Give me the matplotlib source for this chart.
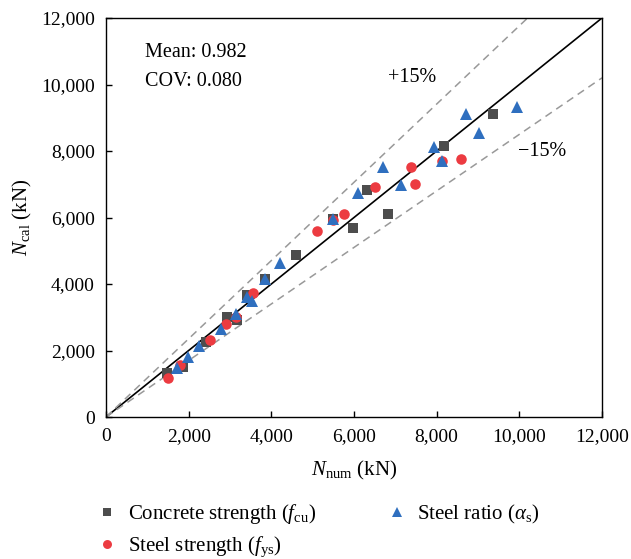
import numpy as np
import matplotlib
matplotlib.use('Agg')
import matplotlib.pyplot as plt

plt.rcParams['font.family'] = 'Liberation Serif'
plt.rcParams['mathtext.fontset'] = 'custom'
plt.rcParams['mathtext.rm'] = 'Liberation Serif'
plt.rcParams['mathtext.it'] = 'Liberation Serif:italic'

# concrete strength (f_cu)
fcu_num = [1476, 1863, 2420, 2927, 3169, 3411, 3847, 4597, 5492, 5976, 6315, 6823, 8178, 9363]
fcu_cal = [1323, 1504, 2256, 3008, 2917, 3669, 4150, 4872, 5955, 5684, 6827, 6105, 8150, 9113]

# steel strength (f_ys)
fys_num = [1508, 1790, 2528, 2903, 3157, 3549, 5098, 5499, 5758, 6520, 7367, 7481, 8122, 8589]
fys_cal = [1164, 1564, 2301, 2797, 3016, 3720, 5609, 5925, 6096, 6908, 7510, 7008, 7699, 7750]

# steel ratio (alpha_s)
as_num = [1710, 1991, 2257, 2782, 3153, 3423, 3525, 3847, 4210, 5499, 6104, 6694, 7149, 7936,
          8122, 8710, 9032, 9932]
as_cal = [1465, 1808, 2126, 2647, 3092, 3618, 3474, 4141, 4622, 5946, 6746, 7528, 6992, 8129,
          7708, 9113, 8550, 9314]

ticks = [0, 2000, 4000, 6000, 8000, 10000, 12000]

fig = plt.figure(figsize=(6.31, 5.59), dpi=100)
ax = fig.add_axes([106/631, 1-417/559, 496/631, 399/559])

xx = np.array([0, 12000])
ax.plot(xx, xx, color='black', lw=1.2, zorder=1)
ax.plot(xx, xx/0.85, color='#999999', lw=1.1, ls=(0, (5, 3.5)), zorder=1)
ax.plot(xx, xx*0.85, color='#999999', lw=1.1, ls=(0, (5, 3.5)), zorder=1)

ax.plot(fcu_num, fcu_cal, 's', color='#4d4d4d', ms=7.2, mew=0,
        label=r'Concrete strength ($f_{\mathrm{cu}}$)', zorder=2)
ax.plot(fys_num, fys_cal, 'o', color='#ec3b41', ms=7.6, mew=0,
        label=r'Steel strength ($f_{\mathrm{ys}}$)', zorder=3)
ax.plot(as_num, as_cal, '^', color='#2f6fbf', ms=9, mew=0,
        label=r'Steel ratio ($\alpha_{\mathrm{s}}$)', zorder=4)

ax.set_xlim(0, 12000)
ax.set_ylim(0, 12000)
ax.set_xticks(ticks)
ax.set_yticks(ticks)
ax.set_xticklabels([f'{t:,}' for t in ticks])
ax.set_yticklabels([f'{t:,}' for t in ticks])
ax.tick_params(direction='in', labelsize=14, length=4, width=1, pad=8)
for s in ax.spines.values():
    s.set_linewidth(1)

ax.set_xlabel(r'$N_{\mathrm{num}}$ (kN)', fontsize=15, labelpad=10)
ax.set_ylabel(r'$N_{\mathrm{cal}}$ (kN)', fontsize=15, labelpad=5)

ax.text(940, 10950, 'Mean: 0.982', fontsize=14.5, va='center')
ax.text(940, 10100, 'COV: 0.080', fontsize=14.5, va='center')
ax.text(7400, 10200, '+15%', fontsize=14.5, ha='center', va='center')
ax.text(10550, 7970, '\u221215%', fontsize=14.5, ha='center', va='center')

fig.legend(loc='upper left', bbox_to_anchor=(97/631, 1-502/559), ncol=2, frameon=False,
           fontsize=15, handletextpad=0.5, columnspacing=3.35, labelspacing=0.4,
           handlelength=1.0, markerscale=0.85, borderpad=0, borderaxespad=0)

fig.savefig('out.png', dpi=100)
